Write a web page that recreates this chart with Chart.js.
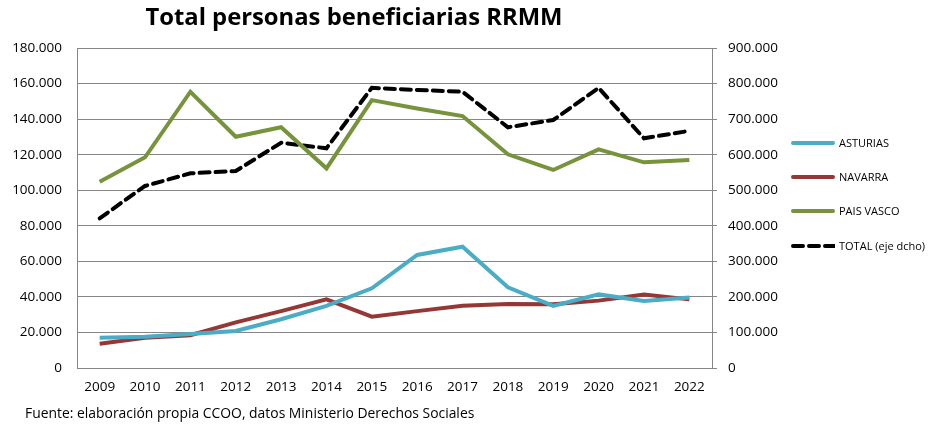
<!DOCTYPE html>
<html>
<head>
<meta charset="utf-8">
<script src="https://cdn.jsdelivr.net/npm/chart.js@4.4.1/dist/chart.umd.min.js"></script>
<style>
  html, body { margin: 0; padding: 0; background: #fff; }
  #wrap { position: relative; width: 928px; height: 425px; font-family: "Open Sans", sans-serif; }
  #title { position: absolute; left: 0; width: 708px; top: 0px; text-align: center; font-weight: bold; font-size: 23.8px; color: #000; }
  #source { position: absolute; left: 25px; top: 403px; font-size: 13.9px; color: #000; }
  .leg { position: absolute; left: 791px; font-size: 11px; color: #000; display: flex; align-items: center; }
  .leg .sw { width: 44px; height: 4px; margin-right: 4px; border-radius: 2px; }
</style>
</head>
<body>
<div id="wrap">
  <canvas id="chart" width="928" height="425"></canvas>
  <div id="title">Total personas beneficiarias RRMM</div>
  <div id="source">Fuente: elaboración propia CCOO, datos Ministerio Derechos Sociales</div>
  <div class="leg" style="top:135px"><div class="sw" style="background:#4bacc6"></div>ASTURIAS</div>
  <div class="leg" style="top:169px"><div class="sw" style="background:#953735"></div>NAVARRA</div>
  <div class="leg" style="top:203px"><div class="sw" style="background:#77933c"></div>PAIS VASCO</div>
  <div class="leg" style="top:238px">
    <svg width="44" height="6" style="margin-right:4px"><line x1="2" y1="3" x2="44" y2="3" stroke="#000" stroke-width="4" stroke-linecap="round" stroke-dasharray="10 6"/></svg>TOTAL (eje dcho)
  </div>
</div>
<script>
const years = ['2009','2010','2011','2012','2013','2014','2015','2016','2017','2018','2019','2020','2021','2022'];
const asturias = [17000, 17600, 19100, 20800, 27400, 34900, 44800, 63600, 68200, 45400, 34900, 41400, 37700, 39600];
const navarra = [13700, 17000, 18400, 25700, 32000, 38600, 28900, 32000, 35000, 36000, 35800, 37900, 41400, 38600];
const paisVasco = [104800, 118500, 155400, 130100, 135400, 112300, 150700, 146000, 141700, 120200, 111400, 123000, 115700, 117000];
const total = [421000, 512000, 547500, 554000, 633600, 618000, 788000, 782000, 777000, 677000, 697500, 788000, 646000, 667000];

function fmt(v) {
  return String(v).replace(/\B(?=(\d{3})+(?!\d))/g, '.');
}

const tickFont = { family: '"Open Sans", sans-serif', size: 13.5 };

new Chart(document.getElementById('chart'), {
  type: 'line',
  data: {
    labels: years,
    datasets: [
      { label: 'ASTURIAS', data: asturias, borderColor: '#4bacc6', yAxisID: 'y' },
      { label: 'NAVARRA', data: navarra, borderColor: '#953735', yAxisID: 'y' },
      { label: 'PAIS VASCO', data: paisVasco, borderColor: '#77933c', yAxisID: 'y' },
      { label: 'TOTAL (eje dcho)', data: total, borderColor: '#000000', borderDash: [10, 6], borderCapStyle: 'round', yAxisID: 'y1' }
    ]
  },
  options: {
    responsive: false,
    animation: false,
    layout: { padding: { top: 48, left: 0, right: 0, bottom: 0 } },
    elements: {
      line: { borderWidth: 4, tension: 0, fill: false },
      point: { radius: 0 }
    },
    plugins: { legend: { display: false }, tooltip: { enabled: false } },
    scales: {
      x: {
        offset: true,
        afterFit: s => { s.height = 57; },
        grid: { display: false, drawTicks: false, offset: true },
        border: { color: '#868686' },
        ticks: { color: '#000', font: tickFont, padding: 11, maxRotation: 0 }
      },
      y: {
        position: 'left',
        min: 0, max: 180000,
        afterFit: s => { s.width = 77; },
        grid: { color: '#868686', drawTicks: false },
        border: { color: '#868686' },
        ticks: { stepSize: 20000, color: '#000', font: tickFont, padding: 15, callback: fmt }
      },
      y1: {
        position: 'right',
        min: 0, max: 900000,
        afterFit: s => { s.width = 216; },
        grid: { drawOnChartArea: false, drawTicks: true, tickLength: 5, color: '#868686' },
        border: { color: '#868686' },
        ticks: { stepSize: 100000, color: '#000', font: tickFont, padding: 11, callback: fmt }
      }
    }
  }
});
</script>
</body>
</html>
